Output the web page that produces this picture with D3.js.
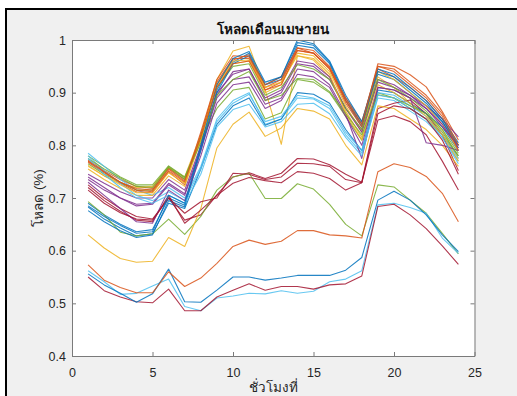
<!DOCTYPE html>
<html>
<head>
<meta charset="utf-8">
<script src="https://d3js.org/d3.v7.min.js"></script>
<style>
  html, body { margin: 0; padding: 0; background: #ffffff; }
  svg { display: block; }
  text { font-family: "Liberation Sans", Arial, "DejaVu Sans", "Noto Sans", sans-serif; }
</style>
</head>
<body>
<svg id="chart" width="517" height="396"></svg>
<script>
// Hourly load profiles for April (fraction of peak), one row per day.
const hours = d3.range(1, 25);

const day01 = [0.690,0.668,0.650,0.636,0.640,0.700,0.686,0.795,0.905,0.958,0.975,0.915,0.925,0.990,0.985,0.955,0.885,0.835,0.935,0.925,0.900,0.875,0.845,0.795];
const day02 = [0.772,0.752,0.735,0.722,0.718,0.757,0.735,0.815,0.915,0.962,0.972,0.905,0.920,0.985,0.980,0.950,0.885,0.840,0.955,0.950,0.934,0.911,0.864,0.810];
const day03 = [0.760,0.742,0.728,0.720,0.722,0.758,0.740,0.820,0.925,0.979,0.988,0.905,0.802,0.970,0.962,0.930,0.865,0.815,0.930,0.910,0.880,0.860,0.830,0.775];
const day04 = [0.745,0.728,0.712,0.700,0.700,0.735,0.715,0.800,0.900,0.935,0.945,0.885,0.900,0.955,0.950,0.925,0.870,0.830,0.925,0.915,0.895,0.875,0.850,0.816];
const day05 = [0.780,0.760,0.740,0.725,0.725,0.761,0.740,0.810,0.870,0.905,0.910,0.850,0.862,0.925,0.920,0.900,0.855,0.810,0.900,0.890,0.870,0.850,0.820,0.780];
const day06 = [0.785,0.760,0.735,0.715,0.705,0.720,0.700,0.760,0.850,0.885,0.900,0.840,0.850,0.890,0.888,0.870,0.820,0.785,0.890,0.885,0.865,0.845,0.815,0.770];
const day07 = [0.725,0.700,0.680,0.665,0.660,0.700,0.658,0.668,0.706,0.740,0.748,0.737,0.747,0.775,0.774,0.763,0.745,0.730,0.870,0.880,0.886,0.860,0.820,0.752];
const day08 = [0.683,0.660,0.643,0.628,0.632,0.690,0.680,0.755,0.840,0.875,0.890,0.838,0.850,0.900,0.897,0.880,0.830,0.790,0.905,0.900,0.880,0.860,0.835,0.790];
const day09 = [0.770,0.750,0.728,0.712,0.710,0.750,0.725,0.820,0.920,0.965,0.965,0.910,0.925,0.980,0.975,0.945,0.880,0.835,0.945,0.930,0.910,0.885,0.850,0.800];
const day10 = [0.755,0.735,0.718,0.705,0.705,0.742,0.722,0.810,0.915,0.955,0.960,0.900,0.915,0.975,0.970,0.940,0.875,0.825,0.940,0.925,0.900,0.875,0.840,0.790];
const day11 = [0.735,0.715,0.700,0.688,0.690,0.728,0.708,0.795,0.895,0.940,0.945,0.890,0.905,0.960,0.955,0.930,0.870,0.825,0.920,0.910,0.895,0.870,0.840,0.795];
const day12 = [0.693,0.668,0.635,0.628,0.632,0.660,0.631,0.665,0.715,0.740,0.747,0.699,0.699,0.727,0.717,0.688,0.650,0.628,0.725,0.721,0.696,0.671,0.633,0.594];
const day13 = [0.562,0.541,0.517,0.519,0.533,0.546,0.494,0.486,0.510,0.514,0.519,0.518,0.524,0.519,0.523,0.541,0.546,0.562,0.687,0.690,0.682,0.671,0.624,0.595];
const day14 = [0.550,0.524,0.512,0.503,0.501,0.527,0.486,0.486,0.512,0.525,0.537,0.525,0.532,0.532,0.527,0.535,0.537,0.552,0.684,0.688,0.668,0.642,0.609,0.574];
const day15 = [0.556,0.535,0.519,0.502,0.518,0.565,0.503,0.502,0.525,0.550,0.550,0.544,0.548,0.553,0.553,0.553,0.563,0.587,0.696,0.713,0.696,0.668,0.630,0.598];
const day16 = [0.573,0.544,0.530,0.520,0.520,0.560,0.532,0.548,0.576,0.608,0.620,0.612,0.618,0.638,0.638,0.630,0.628,0.624,0.750,0.765,0.758,0.741,0.709,0.655];
const day17 = [0.630,0.605,0.585,0.578,0.580,0.625,0.608,0.680,0.795,0.840,0.863,0.817,0.833,0.870,0.865,0.850,0.800,0.763,0.875,0.870,0.850,0.830,0.800,0.760];
const day18 = [0.740,0.720,0.700,0.685,0.688,0.725,0.705,0.790,0.890,0.925,0.930,0.878,0.890,0.945,0.940,0.915,0.860,0.775,0.910,0.905,0.890,0.870,0.835,0.800];
const day19 = [0.765,0.745,0.730,0.715,0.715,0.758,0.735,0.815,0.910,0.950,0.955,0.895,0.910,0.953,0.945,0.925,0.870,0.830,0.925,0.910,0.890,0.865,0.830,0.785];
const day20 = [0.780,0.752,0.728,0.705,0.695,0.712,0.695,0.755,0.845,0.880,0.897,0.845,0.855,0.895,0.890,0.875,0.825,0.790,0.900,0.895,0.875,0.855,0.820,0.775];
const day21 = [0.720,0.695,0.675,0.658,0.655,0.705,0.652,0.677,0.705,0.728,0.739,0.733,0.729,0.750,0.747,0.737,0.715,0.729,0.848,0.856,0.845,0.820,0.770,0.715];
const day22 = [0.676,0.655,0.638,0.625,0.630,0.695,0.683,0.790,0.900,0.955,0.970,0.915,0.930,0.995,0.990,0.958,0.890,0.840,0.940,0.930,0.905,0.880,0.845,0.800];
const day23 = [0.768,0.748,0.730,0.715,0.712,0.752,0.730,0.825,0.925,0.970,0.968,0.915,0.930,0.985,0.975,0.948,0.890,0.845,0.950,0.940,0.915,0.890,0.855,0.790];
const day24 = [0.762,0.742,0.725,0.710,0.710,0.748,0.728,0.812,0.915,0.960,0.962,0.910,0.920,0.970,0.965,0.935,0.860,0.810,0.915,0.900,0.880,0.855,0.820,0.770];
const day25 = [0.730,0.705,0.680,0.655,0.652,0.715,0.695,0.780,0.880,0.915,0.920,0.870,0.885,0.935,0.930,0.910,0.855,0.800,0.910,0.905,0.890,0.805,0.800,0.790];
const day26 = [0.775,0.755,0.738,0.722,0.720,0.760,0.738,0.805,0.895,0.925,0.940,0.885,0.895,0.927,0.925,0.902,0.860,0.820,0.896,0.890,0.875,0.860,0.825,0.780];
const day27 = [0.775,0.745,0.720,0.700,0.690,0.705,0.690,0.745,0.835,0.868,0.878,0.835,0.845,0.878,0.880,0.860,0.815,0.780,0.895,0.890,0.870,0.850,0.815,0.765];
const day28 = [0.715,0.690,0.672,0.660,0.658,0.700,0.671,0.693,0.700,0.747,0.745,0.735,0.740,0.766,0.765,0.760,0.735,0.729,0.860,0.875,0.870,0.850,0.810,0.745];
const day29 = [0.685,0.665,0.648,0.633,0.636,0.705,0.690,0.800,0.915,0.965,0.978,0.920,0.930,1.000,0.993,0.960,0.895,0.845,0.945,0.935,0.910,0.885,0.850,0.805];
const day30 = [0.770,0.750,0.730,0.718,0.715,0.755,0.732,0.815,0.910,0.955,0.960,0.905,0.915,0.980,0.975,0.945,0.885,0.840,0.950,0.945,0.920,0.895,0.860,0.800];

const days = [day01, day02, day03, day04, day05, day06, day07, day08, day09, day10,
              day11, day12, day13, day14, day15, day16, day17, day18, day19, day20,
              day21, day22, day23, day24, day25, day26, day27, day28, day29, day30];

// Default line colour order, cycled over the days.
const lineColors = ["#0072BD", "#D95319", "#EDB120", "#7E2F8E", "#77AC30", "#4DBEEE", "#A2142F"];

const xTicks = [0, 5, 10, 15, 20, 25];
const yTicks = [0.4, 0.5, 0.6, 0.7, 0.8, 0.9, 1];

const titleText = "โหลดเดือนเมษายน";
const xLabelText = "ชั่วโมงที่";
const yLabelText = "โหลด (%)";

const svg = d3.select("#chart");
const W = 517, H = 396;

// Figure window: white margin, dark frame, grey figure background.
svg.append("rect").attr("x", 0).attr("y", 0).attr("width", W).attr("height", H).attr("fill", "#ffffff");
svg.append("rect").attr("x", 5).attr("y", 8).attr("width", W - 5).attr("height", H - 8).attr("fill", "#000000");
svg.append("rect").attr("x", 7).attr("y", 10).attr("width", W - 7).attr("height", H - 10).attr("fill", "#f0f0f0");

const plot = { left: 72, top: 40, right: 474.5, bottom: 356 };

const x = d3.scaleLinear().domain([0, 25]).range([plot.left, plot.right]);
const y = d3.scaleLinear().domain([0.4, 1]).range([plot.bottom, plot.top]);

svg.append("rect")
  .attr("x", plot.left).attr("y", plot.top)
  .attr("width", plot.right - plot.left).attr("height", plot.bottom - plot.top)
  .attr("fill", "#ffffff");

const clip = svg.append("clipPath").attr("id", "plot-clip")
  .append("rect")
  .attr("x", plot.left).attr("y", plot.top)
  .attr("width", plot.right - plot.left).attr("height", plot.bottom - plot.top);

const line = d3.line()
  .x((d, i) => x(hours[i]))
  .y(d => y(d));

svg.append("g")
  .attr("clip-path", "url(#plot-clip)")
  .selectAll("path")
  .data(days)
  .join("path")
  .attr("d", line)
  .attr("fill", "none")
  .attr("stroke", (d, i) => lineColors[i % lineColors.length])
  .attr("stroke-width", 1.1)
  .attr("stroke-opacity", 0.85)
  .attr("stroke-linejoin", "round");

// Axes with inward ticks on all four sides.
const axisColor = "#7a7a7a";
const labelColor = "#262626";

function styleAxis(g) {
  g.select(".domain").attr("stroke", axisColor).attr("stroke-width", 1);
  g.selectAll(".tick line").attr("stroke", axisColor).attr("stroke-width", 1);
  g.selectAll(".tick text").attr("fill", labelColor).attr("font-size", 12.5)
    .attr("font-family", "'Liberation Sans', Arial, sans-serif");
}

svg.append("g")
  .attr("transform", `translate(0,${plot.bottom})`)
  .call(d3.axisBottom(x).tickValues(xTicks).tickFormat(d3.format("d")).tickSizeInner(-4).tickSizeOuter(0).tickPadding(12))
  .call(styleAxis);

svg.append("g")
  .attr("transform", `translate(0,${plot.top})`)
  .call(d3.axisTop(x).tickValues(xTicks).tickFormat("").tickSizeInner(-4).tickSizeOuter(0))
  .call(styleAxis);

svg.append("g")
  .attr("transform", `translate(${plot.left},0)`)
  .call(d3.axisLeft(y).tickValues(yTicks).tickFormat(d => d === 1 ? "1" : d3.format(".1f")(d)).tickSizeInner(-4).tickSizeOuter(0).tickPadding(6))
  .call(styleAxis);

svg.append("g")
  .attr("transform", `translate(${plot.right},0)`)
  .call(d3.axisRight(y).tickValues(yTicks).tickFormat("").tickSizeInner(-4).tickSizeOuter(0))
  .call(styleAxis);

// Title and axis labels.
const cx = (plot.left + plot.right) / 2;

svg.append("text")
  .attr("x", cx).attr("y", 34)
  .attr("text-anchor", "middle")
  .attr("font-size", 13.5)
  .attr("font-weight", "bold")
  .attr("fill", "#111111")
  .text(titleText);

svg.append("text")
  .attr("x", cx).attr("y", 392)
  .attr("text-anchor", "middle")
  .attr("font-size", 13.5)
  .attr("fill", labelColor)
  .text(xLabelText);

svg.append("text")
  .attr("transform", `translate(43,${(plot.top + plot.bottom) / 2}) rotate(-90)`)
  .attr("text-anchor", "middle")
  .attr("font-size", 13.5)
  .attr("fill", labelColor)
  .text(yLabelText);
</script>
</body>
</html>
